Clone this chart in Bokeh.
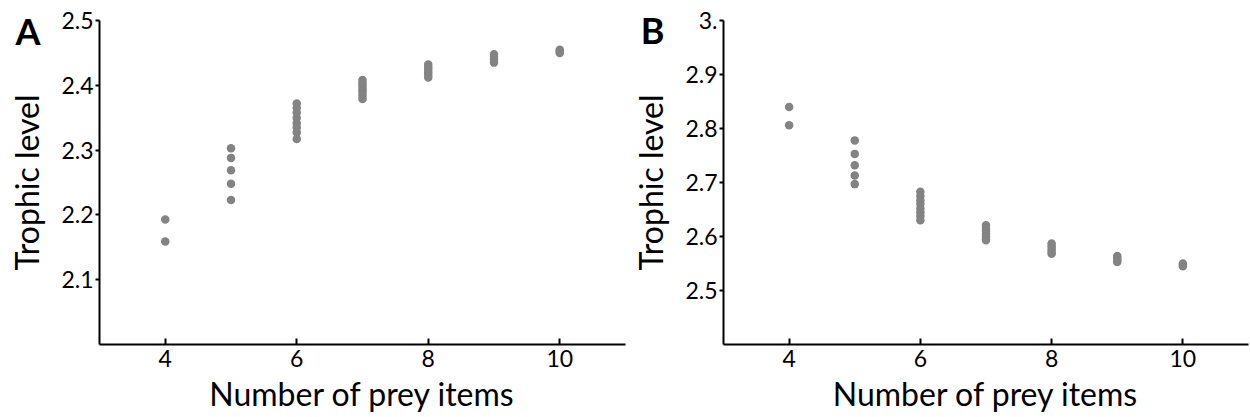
from bokeh.plotting import figure
from bokeh.layouts import row
from bokeh.models import FixedTicker, CustomJSTickFormatter, Range1d, LinearAxis
from bokeh.embed import file_html
from bokeh.resources import INLINE

# ---- data ----
prey_items = [4, 6, 8, 10]

a_x4 = [2.193, 2.159]
a_x5 = [2.303, 2.288, 2.269, 2.248, 2.223]
a_x6 = [2.372, 2.365, 2.358, 2.350, 2.342, 2.335, 2.327, 2.317]
a_x7 = [2.408, 2.404, 2.400, 2.396, 2.392, 2.388, 2.384, 2.379]
a_x8 = [2.432, 2.428, 2.424, 2.420, 2.416, 2.412]
a_x9 = [2.448, 2.444, 2.440, 2.435]
a_x10 = [2.455, 2.452, 2.450]

b_x4 = [2.840, 2.806]
b_x5 = [2.778, 2.753, 2.732, 2.713, 2.697]
b_x6 = [2.683, 2.675, 2.667, 2.660, 2.652, 2.645, 2.638, 2.630]
b_x7 = [2.621, 2.615, 2.610, 2.605, 2.600, 2.596, 2.593]
b_x8 = [2.587, 2.582, 2.577, 2.572, 2.568]
b_x9 = [2.564, 2.560, 2.556, 2.553]
b_x10 = [2.550, 2.547, 2.545]

a_yticks = [2.1, 2.2, 2.3, 2.4, 2.5]
b_yticks = [2.5, 2.6, 2.7, 2.8, 2.9, 3.0]

FONT = "Lato"
GREY = "#838383"
H = 417


def flatten(groups, xs):
    X, Y = [], []
    for xv, g in zip(xs, groups):
        X += [xv] * len(g)
        Y += g
    return X, Y


def make_panel(letter, groups, yr, yticks, width, ml, mr, mt, mb, fmt_js, letter_standoff):
    xr = (3, 11)
    p = figure(width=width, height=H, output_backend="svg", toolbar_location=None,
               x_range=Range1d(*xr), y_range=Range1d(*yr),
               min_border_left=ml, min_border_right=mr, min_border_top=mt, min_border_bottom=mb)
    p.outline_line_color = None
    p.grid.grid_line_color = None
    p.background_fill_color = "white"
    p.border_fill_color = "white"
    X, Y = flatten(groups, [4, 5, 6, 7, 8, 9, 10])
    p.scatter(X, Y, size=8.5, fill_color=GREY, line_color=None)

    xa = p.xaxis[0]
    ya = p.yaxis[0]
    xa.ticker = FixedTicker(ticks=prey_items)
    ya.ticker = FixedTicker(ticks=yticks)
    ya.formatter = CustomJSTickFormatter(code=fmt_js)
    for ax in (xa, ya):
        ax.axis_line_width = 2
        ax.axis_line_color = "black"
        ax.major_tick_line_color = "black"
        ax.major_tick_line_width = 2
        ax.minor_tick_line_color = None
        ax.major_label_text_font = FONT
        ax.major_label_text_font_size = "23px"
        ax.major_label_text_color = "black"
        ax.axis_label_text_font = FONT
        ax.axis_label_text_font_style = "normal"
        ax.axis_label_text_font_size = "32px"
        ax.axis_label_text_color = "black"
    xa.major_tick_in = 6
    xa.major_tick_out = 0
    xa.major_label_standoff = 5
    xa.axis_label = "Number of prey items"
    xa.axis_label_standoff = 4
    ya.major_tick_in = 0
    ya.major_tick_out = 4
    ya.major_label_standoff = 2
    ya.axis_label = "Trophic level"
    ya.axis_label_standoff = 12

    # panel letter: drawn as the single label of a bare extra axis to the left
    frame_h = H - mt - mb
    letter_center_px = 30
    ly = yr[0] + (H - mb - letter_center_px) * (yr[1] - yr[0]) / frame_h
    la = LinearAxis(ticker=FixedTicker(ticks=[ly]),
                    formatter=CustomJSTickFormatter(code="return '%s';" % letter))
    la.axis_line_color = None
    la.major_tick_line_color = None
    la.minor_tick_line_color = None
    la.major_tick_in = 0
    la.major_tick_out = 0
    la.major_label_standoff = letter_standoff
    la.major_label_text_font = FONT
    la.major_label_text_font_style = "bold"
    la.major_label_text_font_size = "36px"
    la.major_label_text_color = "black"
    p.add_layout(la, "left")
    return p


pa = make_panel("A", [a_x4, a_x5, a_x6, a_x7, a_x8, a_x9, a_x10], (2.0, 2.5), a_yticks,
                628, 99, 3, 19, 73, "return tick.toFixed(1);", -36)
pb = make_panel("B", [b_x4, b_x5, b_x6, b_x7, b_x8, b_x9, b_x10], (2.4, 3.0), b_yticks,
                622, 95, 2, 20, 72, "return (tick > 2.99) ? '3.' : tick.toFixed(1);", -36)

layout = row(pa, pb)
open("out.html", "w").write(file_html(layout, INLINE))
